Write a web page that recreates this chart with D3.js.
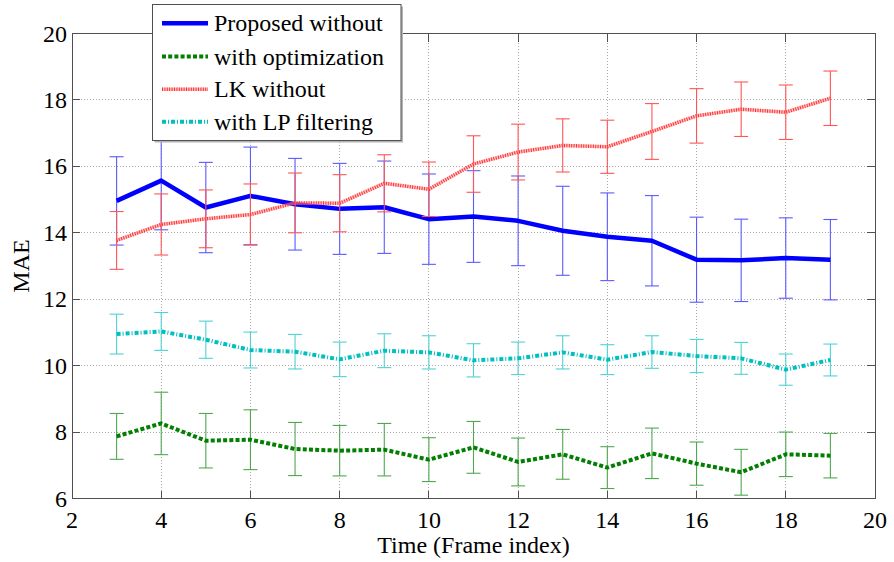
<!DOCTYPE html>
<html>
<head>
<meta charset="utf-8">
<script src="https://cdn.jsdelivr.net/npm/d3@7/dist/d3.min.js"></script>
<style>
  html, body { margin: 0; padding: 0; background: #fff; }
  svg { display: block; }
  text { font-family: "Liberation Serif", "Times New Roman", serif; fill: #000; }
</style>
</head>
<body>
<svg id="chart" width="894" height="562"></svg>
<script>
// Frame indices on the x axis
const frames = [3, 4, 5, 6, 7, 8, 9, 10, 11, 12, 13, 14, 15, 16, 17, 18, 19];

// Mean absolute error per frame, one array per method
const proposedWithout = [14.96, 15.57, 14.76, 15.11, 14.86, 14.72, 14.77, 14.41, 14.49, 14.36, 14.06, 13.88, 13.76, 13.19, 13.17, 13.24, 13.19];
const withOptimization = [7.87, 8.26, 7.74, 7.77, 7.49, 7.44, 7.47, 7.17, 7.54, 7.10, 7.33, 6.93, 7.36, 7.05, 6.79, 7.33, 7.29];
const lkWithout = [13.77, 14.25, 14.42, 14.55, 14.90, 14.89, 15.49, 15.31, 16.07, 16.43, 16.63, 16.59, 17.05, 17.52, 17.72, 17.63, 18.05];
const withLPFiltering = [10.95, 11.03, 10.78, 10.47, 10.42, 10.19, 10.45, 10.40, 10.16, 10.22, 10.40, 10.18, 10.41, 10.29, 10.22, 9.88, 10.17];

// Half-length of each error bar (standard deviation)
const proposedErr = [1.33, 1.48, 1.36, 1.47, 1.38, 1.37, 1.39, 1.36, 1.38, 1.35, 1.34, 1.32, 1.36, 1.28, 1.24, 1.21, 1.21];
const optimizationErr = [0.69, 0.94, 0.82, 0.90, 0.80, 0.76, 0.79, 0.66, 0.78, 0.72, 0.75, 0.63, 0.76, 0.65, 0.69, 0.67, 0.67];
const lkErr = [0.87, 0.92, 0.87, 0.92, 0.90, 0.86, 0.86, 0.82, 0.85, 0.84, 0.80, 0.80, 0.84, 0.82, 0.82, 0.82, 0.82];
const lpErr = [0.60, 0.57, 0.56, 0.54, 0.52, 0.52, 0.51, 0.50, 0.50, 0.49, 0.50, 0.45, 0.49, 0.50, 0.48, 0.47, 0.48];

// Axis ticks and labels
const xTicks = [2, 4, 6, 8, 10, 12, 14, 16, 18, 20];
const yTicks = [6, 8, 10, 12, 14, 16, 18, 20];
const xLabel = "Time (Frame index)";
const yLabel = "MAE";
const legendLabels = ["Proposed without", "with optimization", "LK without", "with LP filtering"];

const svg = d3.select("#chart");
const pL = 72, pR = 875, pT = 33.5, pB = 498.5;

const x = d3.scaleLinear().domain([2, 20]).range([pL, pR]);
const y = d3.scaleLinear().domain([6, 20]).range([pB, pT]);

// Dotted grid
const grid = svg.append("g").attr("stroke", "#a8a8a8").attr("stroke-width", 1)
  .attr("stroke-dasharray", "1,2").attr("shape-rendering", "crispEdges");
xTicks.slice(1, -1).forEach(t => grid.append("line")
  .attr("x1", x(t)).attr("x2", x(t)).attr("y1", pT).attr("y2", pB));
yTicks.slice(1, -1).forEach(t => grid.append("line")
  .attr("x1", pL).attr("x2", pR).attr("y1", y(t)).attr("y2", y(t)));

// Series definitions: values, errors and styles
const series = [
  { vals: proposedWithout, err: proposedErr, color: "#0000ff", barColor: "#5a5aff", width: 4.5, dash: null },
  { vals: withOptimization, err: optimizationErr, color: "#007f00", barColor: "#4fa84f", width: 4, dash: "4,2.2" },
  { vals: lkWithout, err: lkErr, color: "#ff3030", barColor: "#ff5555", width: 3.5, dash: "1,1.4", under: "rgba(255,140,140,0.55)" },
  { vals: withLPFiltering, err: lpErr, color: "#00bfbf", barColor: "#4fd2d2", width: 4, dash: "4,2,1,2" }
];

const line = d3.line().x((d, i) => x(frames[i])).y(d => y(d));
const cap = 7;

series.forEach(s => {
  const g = svg.append("g");
  // error bars
  const bars = g.append("g").attr("stroke", s.barColor).attr("stroke-width", 1.1);
  s.vals.forEach((v, i) => {
    const cx = x(frames[i]);
    const y1 = y(v + s.err[i]), y0 = y(v - s.err[i]);
    bars.append("line").attr("x1", cx).attr("x2", cx).attr("y1", y1).attr("y2", y0);
    bars.append("line").attr("x1", cx - cap).attr("x2", cx + cap).attr("y1", y1).attr("y2", y1);
    bars.append("line").attr("x1", cx - cap).attr("x2", cx + cap).attr("y1", y0).attr("y2", y0);
  });
  if (s.under) {
    g.append("path").datum(s.vals).attr("d", line).attr("fill", "none")
      .attr("stroke", s.under).attr("stroke-width", s.width);
  }
  g.append("path").datum(s.vals).attr("d", line).attr("fill", "none")
    .attr("stroke", s.color).attr("stroke-width", s.width)
    .attr("stroke-dasharray", s.dash)
    .attr("stroke-linejoin", "round");
});

// Axes box with inward ticks
const axisColor = "#505050";
svg.append("rect").attr("x", pL).attr("y", pT).attr("width", pR - pL).attr("height", pB - pT)
  .attr("fill", "none").attr("stroke", axisColor).attr("stroke-width", 1).attr("shape-rendering", "crispEdges");

const ticks = svg.append("g").attr("stroke", axisColor).attr("stroke-width", 1).attr("shape-rendering", "crispEdges");
const tl = 8;
xTicks.forEach(t => {
  ticks.append("line").attr("x1", x(t)).attr("x2", x(t)).attr("y1", pB).attr("y2", pB - tl);
  ticks.append("line").attr("x1", x(t)).attr("x2", x(t)).attr("y1", pT).attr("y2", pT + tl);
});
yTicks.forEach(t => {
  ticks.append("line").attr("x1", pL).attr("x2", pL + tl).attr("y1", y(t)).attr("y2", y(t));
  ticks.append("line").attr("x1", pR).attr("x2", pR - tl).attr("y1", y(t)).attr("y2", y(t));
});

// Tick labels
svg.append("g").selectAll("text").data(xTicks).join("text")
  .attr("x", d => x(d)).attr("y", pB + 29).attr("text-anchor", "middle")
  .attr("font-size", 24).text(d => d);
svg.append("g").selectAll("text").data(yTicks).join("text")
  .attr("x", pL - 5).attr("y", d => y(d) + 8).attr("text-anchor", "end")
  .attr("font-size", 24).text(d => d);

// Axis titles
svg.append("text").attr("x", (pL + pR) / 2).attr("y", 553).attr("text-anchor", "middle")
  .attr("font-size", 24).text(xLabel);
svg.append("text").attr("transform", `translate(29,${(pT + pB) / 2}) rotate(-90)`)
  .attr("text-anchor", "middle").attr("font-size", 24).text(yLabel);

// Legend
const lg = svg.append("g");
const lx = 152.5, ly = 4.5, lw = 248.5, lh = 136;
lg.append("rect").attr("x", lx + 2).attr("y", ly + 2).attr("width", lw).attr("height", lh)
  .attr("fill", "#b4b4b4");
lg.append("rect").attr("x", lx).attr("y", ly).attr("width", lw).attr("height", lh)
  .attr("fill", "#fff").attr("stroke", axisColor).attr("stroke-width", 1);
const rowY = [23.3, 56.5, 89.3, 121.7];
series.forEach((s, i) => {
  const yy = rowY[i];
  if (s.under) {
    lg.append("line").attr("x1", 162).attr("x2", 208).attr("y1", yy).attr("y2", yy)
      .attr("stroke", s.under).attr("stroke-width", s.width);
  }
  lg.append("line").attr("x1", 162).attr("x2", 208).attr("y1", yy).attr("y2", yy)
    .attr("stroke", s.color).attr("stroke-width", s.width).attr("stroke-dasharray", s.dash);
  lg.append("text").attr("x", 214).attr("y", yy + 8).attr("font-size", 24).text(legendLabels[i]);
});
</script>
</body>
</html>
